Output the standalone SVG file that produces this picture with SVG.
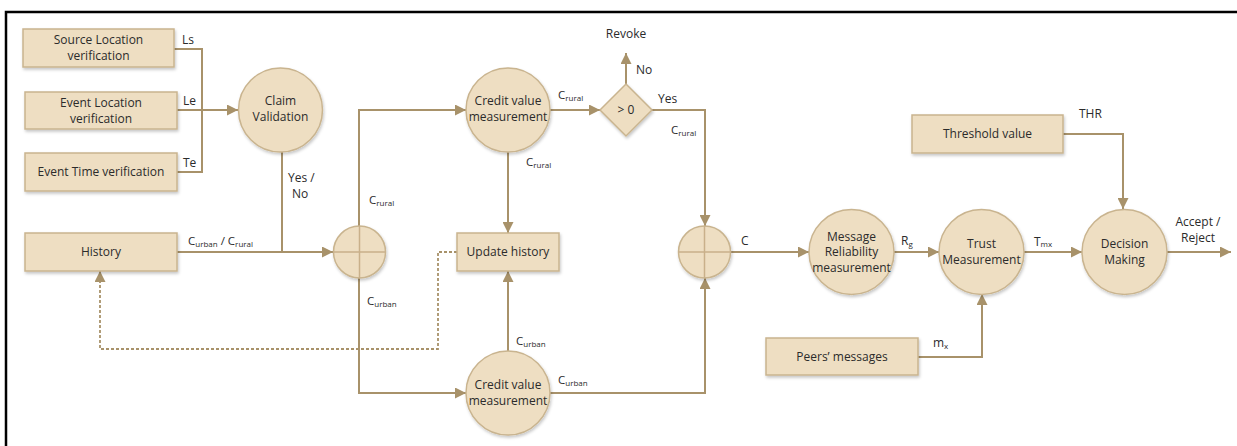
<svg xmlns="http://www.w3.org/2000/svg" width="1237" height="446" viewBox="0 0 1237 446">
<style>
.box{fill:#EEDEC2;stroke:#C9B48F;stroke-width:1.5;filter:url(#sh)}
.circ{fill:#EEDEC2;stroke:#C9B48F;stroke-width:1.5;filter:url(#sh)}
.cross{stroke:#C9B08A;stroke-width:1.5;fill:none}
.ln{fill:none;stroke:#A8926A;stroke-width:2}
.dot{fill:none;stroke:#A8926A;stroke-width:1.8;stroke-dasharray:3,2}
text{font-family:"Open Sans","Noto Sans","Liberation Sans",sans-serif;font-size:12px;fill:#2b2b2b}
.c{text-anchor:middle}
.lb{font-size:11.5px}
.sub{font-size:8px}
</style>
<defs>
<filter id="sh" x="-20%" y="-20%" width="140%" height="150%">
<feDropShadow dx="1" dy="2" stdDeviation="1.5" flood-color="#000" flood-opacity="0.22"/>
</filter>
<marker id="arr" viewBox="0 0 10 10" refX="10" refY="5" markerWidth="11" markerHeight="11" markerUnits="userSpaceOnUse" orient="auto">
<path d="M0,0 L10,5 L0,10 z" fill="#A8926A"/>
</marker>
</defs>
<rect width="1237" height="446" fill="#fff"/>
<path d="M6,446 V12 H1237" fill="none" stroke="#000" stroke-width="2.5"/>

<g id="connectors">
<path class="ln" d="M174,49 H202 V172 H177"/>
<path class="ln" d="M177,110 H238" marker-end="url(#arr)"/>
<path class="ln" d="M282,152 V252"/>
<path class="ln" d="M177,252 H333" marker-end="url(#arr)"/>
<path class="ln" d="M359,226 V110 H466" marker-end="url(#arr)"/>
<path class="ln" d="M359,278 V393 H466" marker-end="url(#arr)"/>
<path class="ln" d="M550,110 H600" marker-end="url(#arr)"/>
<path class="ln" d="M626,84 V53" marker-end="url(#arr)"/>
<path class="ln" d="M652,110 H705 V226" marker-end="url(#arr)"/>
<path class="ln" d="M508,152 V233" marker-end="url(#arr)"/>
<path class="ln" d="M508,351 V271" marker-end="url(#arr)"/>
<path class="ln" d="M550,393 H705 V278" marker-end="url(#arr)"/>
<path class="ln" d="M731,252 H809" marker-end="url(#arr)"/>
<path class="ln" d="M894,252 H939" marker-end="url(#arr)"/>
<path class="ln" d="M918,357 H982 V294" marker-end="url(#arr)"/>
<path class="ln" d="M1063,134 H1123 V209" marker-end="url(#arr)"/>
<path class="ln" d="M1024,252 H1082" marker-end="url(#arr)"/>
<path class="ln" d="M1167,252 H1231" marker-end="url(#arr)"/>
<path class="dot" d="M457,252 H438 V349 H100 V271" marker-end="url(#arr)"/>

<text x="182" y="44">Ls</text>
<text x="183" y="105">Le</text>
<text x="183" y="167">Te</text>
<text x="288" y="182">Yes /</text>
<text x="292" y="198">No</text>
<text x="188" y="245" class="lb">C<tspan class="sub" dy="2">urban</tspan><tspan dy="-2"> / C</tspan><tspan class="sub" dy="2">rural</tspan></text>
<text x="369" y="204" class="lb">C<tspan class="sub" dy="2">rural</tspan></text>
<text x="367" y="305" class="lb">C<tspan class="sub" dy="2">urban</tspan></text>
<text x="558" y="99" class="lb">C<tspan class="sub" dy="2">rural</tspan></text>
<text x="526" y="166" class="lb">C<tspan class="sub" dy="2">rural</tspan></text>
<text x="626" y="38" class="c">Revoke</text>
<text x="636" y="74">No</text>
<text x="658" y="103">Yes</text>
<text x="671" y="134" class="lb">C<tspan class="sub" dy="2">rural</tspan></text>
<text x="516" y="345" class="lb">C<tspan class="sub" dy="2">urban</tspan></text>
<text x="558" y="384" class="lb">C<tspan class="sub" dy="2">urban</tspan></text>
<text x="741" y="245">C</text>
<text x="901" y="245">R<tspan class="sub" dy="2">g</tspan></text>
<text x="933" y="347">m<tspan class="sub" dy="2">x</tspan></text>
<text x="1079" y="118">THR</text>
<text x="1034" y="246">T<tspan class="sub" dy="1">mx</tspan></text>
<text x="1198" y="226" class="c">Accept /</text>
<text x="1198" y="242" class="c">Reject</text>
</g>

<g id="source-location">
<rect class="box" x="23" y="29" width="151" height="38"/>
<text class="c" x="98.5" y="44">Source Location</text>
<text class="c" x="98.5" y="60">verification</text>
</g>
<g id="event-location">
<rect class="box" x="25" y="92" width="152" height="37"/>
<text class="c" x="101" y="107">Event Location</text>
<text class="c" x="101" y="123">verification</text>
</g>
<g id="event-time">
<rect class="box" x="25" y="153" width="152" height="38"/>
<text class="c" x="101" y="176">Event Time verification</text>
</g>
<g id="history">
<rect class="box" x="25" y="233" width="152" height="38"/>
<text class="c" x="101" y="256">History</text>
</g>
<g id="claim-validation">
<circle class="circ" cx="280.5" cy="110" r="42"/>
<text class="c" x="280.5" y="105">Claim</text>
<text class="c" x="280.5" y="121">Validation</text>
</g>
<g id="sum1">
<circle class="circ" cx="359.5" cy="252" r="26"/>
<path class="cross" d="M333.5,252 H385.5 M359.5,226 V278"/>
</g>
<g id="credit-rural">
<circle class="circ" cx="508" cy="110" r="42"/>
<text class="c" x="508" y="105">Credit value</text>
<text class="c" x="508" y="121">measurement</text>
</g>
<g id="decision-gt0">
<path class="box" d="M626,84 L652,110 L626,136 L600,110 z"/>
<text class="c" x="626" y="114">&gt; 0</text>
</g>
<g id="update-history">
<rect class="box" x="457" y="233" width="102" height="38"/>
<text class="c" x="508" y="256">Update history</text>
</g>
<g id="credit-urban">
<circle class="circ" cx="508" cy="393" r="42"/>
<text class="c" x="508" y="389">Credit value</text>
<text class="c" x="508" y="405">measurement</text>
</g>
<g id="sum2">
<circle class="circ" cx="704.5" cy="252" r="26"/>
<path class="cross" d="M678.5,252 H730.5 M704.5,226 V278"/>
</g>
<g id="message-reliability">
<circle class="circ" cx="851.5" cy="252" r="42.5"/>
<text class="c" x="851.5" y="241">Message</text>
<text class="c" x="851.5" y="256">Reliability</text>
<text class="c" x="851.5" y="272">measurement</text>
</g>
<g id="peers-messages">
<rect class="box" x="766" y="338" width="152" height="37"/>
<text class="c" x="842" y="361">Peers’ messages</text>
</g>
<g id="trust-measurement">
<circle class="circ" cx="981.5" cy="252" r="42.5"/>
<text class="c" x="981.5" y="248">Trust</text>
<text class="c" x="981.5" y="264">Measurement</text>
</g>
<g id="threshold-value">
<rect class="box" x="912" y="115" width="151" height="38"/>
<text class="c" x="987.5" y="138">Threshold value</text>
</g>
<g id="decision-making">
<circle class="circ" cx="1124.5" cy="252" r="42.5"/>
<text class="c" x="1124.5" y="248">Decision</text>
<text class="c" x="1124.5" y="264">Making</text>
</g>
</svg>
